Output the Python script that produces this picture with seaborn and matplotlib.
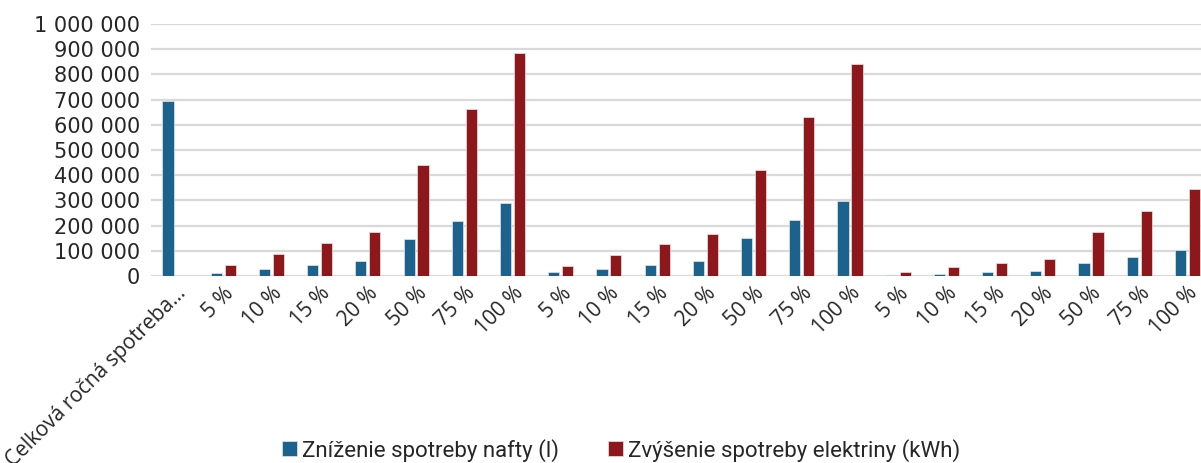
import numpy as np
import pandas as pd
import matplotlib
matplotlib.use("Agg")
import matplotlib.pyplot as plt
import seaborn as sns
from matplotlib.ticker import FuncFormatter, MultipleLocator

# ---- data ----
categories = ["Celková ročná spotreba...",
              "5 %", "10 %", "15 %", "20 %", "50 %", "75 %", "100 %",
              "5 %", "10 %", "15 %", "20 %", "50 %", "75 %", "100 %",
              "5 %", "10 %", "15 %", "20 %", "50 %", "75 %", "100 %"]
nafta = [693000,
         13300, 29000, 42500, 58400, 145000, 219000, 291000,
         14600, 28000, 44000, 60000, 149000, 223000, 299000,
         4000, 9300, 14600, 20000, 51800, 77000, 103600]
elektrina = [np.nan,
             42500, 87600, 131000, 175000, 441000, 663000, 884000,
             41000, 83700, 126000, 167000, 421000, 631000, 841000,
             16000, 34500, 51800, 67700, 174000, 259000, 346600]
series_names = ["Zníženie spotreby nafty (l)", "Zvýšenie spotreby elektriny (kWh)"]
colors = ["#1B628C", "#8D171B"]

slots = [f"s{i}" for i in range(len(categories))]
df = pd.DataFrame({
    "slot": slots * 2,
    "value": nafta + elektrina,
    "series": [series_names[0]] * len(slots) + [series_names[1]] * len(slots),
})

sns.set_theme(style="white")
plt.rcParams["font.family"] = ["DejaVu Sans"]

fig = plt.figure(figsize=(12.01, 4.63), dpi=100)
ax = fig.add_axes([0.1257, 0.404, 0.883, 0.544])

sns.barplot(data=df, x="slot", y="value", hue="series", order=slots,
            hue_order=series_names, palette=colors, saturation=1, width=0.58, gap=0.2,
            edgecolor="#e6e6e6", linewidth=0.5, ax=ax, legend=True)

ax.set_ylim(0, 1000000)
ax.yaxis.set_major_locator(MultipleLocator(100000))
ax.yaxis.set_major_formatter(FuncFormatter(lambda v, p: f"{int(v):,}".replace(",", " ")))
ax.set_xlim(-0.5, len(slots) - 0.5)
ax.grid(axis="y", color="#d9d9d9", linewidth=1.6)
ax.set_axisbelow(True)
for s in ax.spines.values():
    s.set_visible(False)
ax.tick_params(axis="both", length=0)
ax.tick_params(axis="y", labelsize=15, colors="#262626", pad=8)
ax.set_xlabel("")
ax.set_ylabel("")
ax.set_xticks(range(len(slots)))
ax.set_xticklabels(categories, rotation=45, ha="right", rotation_mode="anchor",
                   fontsize=15, family=["Open Sans", "DejaVu Sans"], color="#262626")
ax.tick_params(axis="x", pad=5)

handles, labels = ax.get_legend_handles_labels()
ax.legend_.remove()
fig.legend(handles, labels, loc="center", bbox_to_anchor=(0.517, 0.028), ncol=2,
           frameon=False, prop={"family": "Roboto", "size": 16},
           handlelength=0.7, handleheight=0.7, handletextpad=0.2, columnspacing=2.2,
           labelcolor="#262626")

fig.savefig("out.png", dpi=100)
